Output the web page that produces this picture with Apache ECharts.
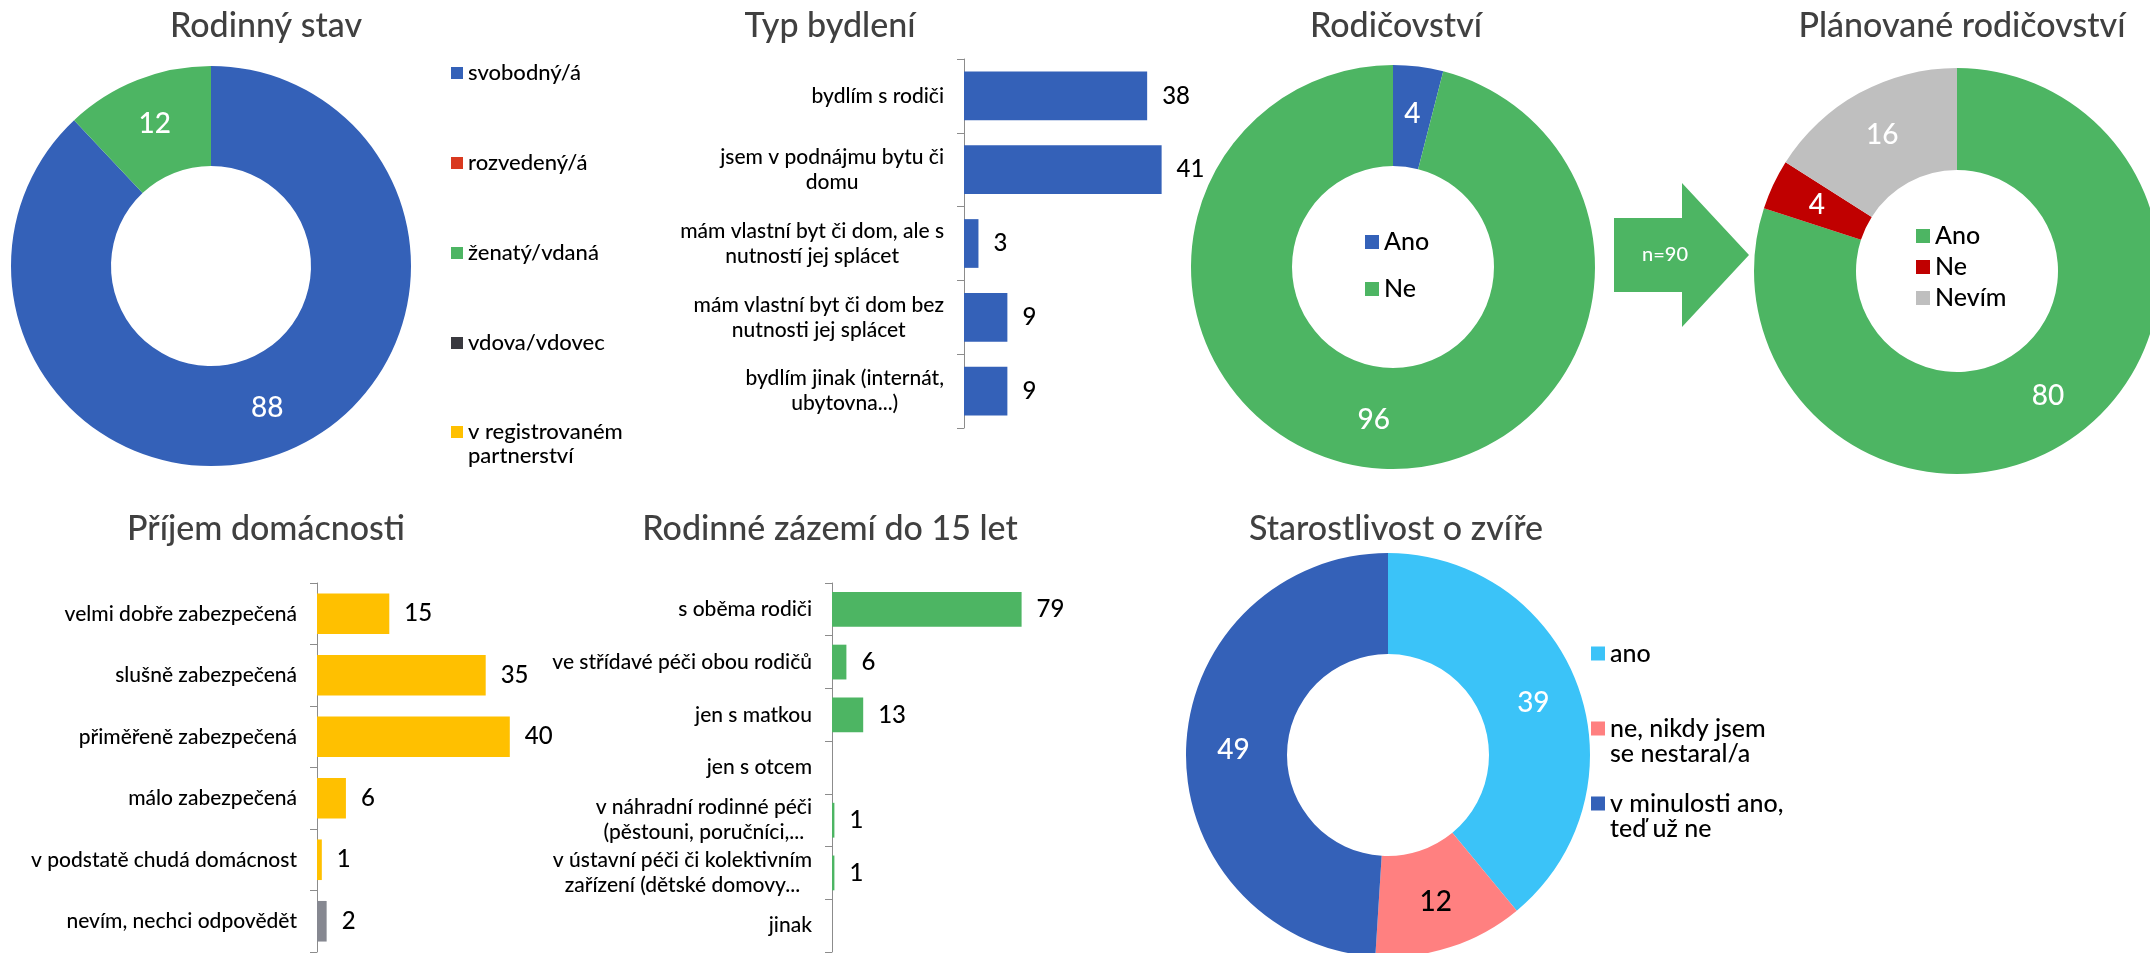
<!DOCTYPE html>
<html>
<head>
<meta charset="utf-8">
<script src="https://cdn.jsdelivr.net/npm/echarts@6/dist/echarts.min.js"></script>
<style>
html,body{margin:0;padding:0;background:#fff;}
#c{width:2150px;height:953px;}
</style>
</head>
<body>
<div id="c"></div>
<script>
// ---------- DATA ----------
const stavNames = ['svobodný/á', 'rozvedený/á', 'ženatý/vdaná', 'vdova/vdovec', 'v registrovaném\npartnerství'];
const stavVals = [88, 0, 12, 0, 0];

const bydleniCats = ['bydlím s rodiči', 'jsem v podnájmu bytu či\ndomu', 'mám vlastní byt či dom, ale s\nnutností jej splácet', 'mám vlastní byt či dom bez\nnutnosti jej splácet', 'bydlím jinak (internát,\nubytovna...)'];
const bydleniVals = [38, 41, 3, 9, 9];

const rodNames = ['Ano', 'Ne'];
const rodVals = [4, 96];

const planNames = ['Ano', 'Ne', 'Nevím'];
const planVals = [80, 4, 16];

const prijemCats = ['velmi dobře zabezpečená', 'slušně zabezpečená', 'přiměřeně zabezpečená', 'málo zabezpečená', 'v podstatě chudá domácnost', 'nevím, nechci odpovědět'];
const prijemVals = [15, 35, 40, 6, 1, 2];

const zazemiCats = ['s oběma rodiči', 've střídavé péči obou rodičů', 'jen s matkou', 'jen s otcem', 'v náhradní rodinné péči\n(pěstouni, poručníci,...', 'v ústavní péči či kolektivním\nzařízení (dětské domovy...', 'jinak'];
const zazemiVals = [79, 6, 13, 0, 1, 1, 0];

const zvireNames = ['ano', 'ne, nikdy jsem\nse nestaral/a', 'v minulosti ano,\nteď už ne'];
const zvireVals = [39, 12, 49];

const nLabel = 'n=90';

// ---------- STYLES ----------
const FONT = 'Lato';
const FW = 500;
const BLUE = '#3461B8', RED = '#D9391F', GREEN = '#4DB563', DARK = '#3A3A40', YELLOW = '#FFC000';
const DARKRED = '#C00000', LGRAY = '#BFBFBF', LBLUE = '#3BC3F8', SALMON = '#FF8080', BARGRAY = '#868891';
const stavColors = [BLUE, RED, GREEN, DARK, YELLOW];
const rodColors = [BLUE, GREEN];
const planColors = [GREEN, DARKRED, LGRAY];
const zvireColors = [LBLUE, SALMON, BLUE];
const AXIS = '#8C8C8C';

const chart = echarts.init(document.getElementById('c'), null, {renderer: 'canvas'});

function titleItem(text, x, y) {
  return {text, left: x, top: y, textAlign: 'center', padding: 0,
    textStyle: {fontSize: 34, lineHeight: 40, fontWeight: FW, color: '#404040', fontFamily: FONT}};
}

function catAxis(gridIndex, cats) {
  return {
    type: 'category', gridIndex, data: cats, inverse: true,
    axisLine: {show: true, lineStyle: {color: AXIS, width: 1}},
    axisTick: {show: true, length: 7, lineStyle: {color: AXIS}},
    axisLabel: {
      margin: 20, color: '#000', fontSize: 21, fontFamily: FONT, fontWeight: FW, lineHeight: 25,
      formatter: v => v.split('\n').map(l => '{c|' + l + '}').join('\n'),
      rich: {c: {align: 'center', fontSize: 21, fontFamily: FONT, fontWeight: FW, lineHeight: 25, color: '#000'}}
    }
  };
}

function valAxis(gridIndex, max) {
  return {type: 'value', gridIndex, min: 0, max, show: false};
}

function barSeries(idx, vals, colorFn) {
  return {
    type: 'bar', xAxisIndex: idx, yAxisIndex: idx, data: vals, barWidth: '66%',
    itemStyle: {color: colorFn},
    label: {show: true, position: 'right', distance: 15, fontSize: 24, fontFamily: FONT, fontWeight: FW, color: '#000',
      formatter: p => (p.value ? String(p.value) : '')},
    animation: false
  };
}

function pieSeries(names, vals, colors, center, radius, labelColors) {
  return {
    type: 'pie', center, radius, startAngle: 90, clockwise: true, animation: false,
    avoidLabelOverlap: false,
    data: names.map((n, i) => ({name: n, value: vals[i],
      itemStyle: {color: colors[i]},
      label: {color: (labelColors && labelColors[i]) || '#fff'}})),
    label: {show: true, position: 'inside', fontSize: 28, fontFamily: FONT, fontWeight: FW,
      formatter: p => (p.value ? String(p.value) : '')},
    labelLine: {show: false},
    emphasis: {scale: false}
  };
}

// icon: square of size s at the top of a box of height h (so it lines up with the first text line)
function topSquare(s, h) {
  return 'path://M0,0h' + s + 'v' + s + 'h-' + s + 'zM0,' + h + 'h0.01v0.01h-0.01z';
}

function legendItem(names, colors, left, top, gap, fontSize, lineHeight, itemSize, iconH) {
  return {
    orient: 'vertical', left, top, padding: 0, itemGap: gap,
    icon: iconH ? topSquare(itemSize, iconH) : 'rect',
    itemWidth: itemSize, itemHeight: iconH ? iconH : itemSize, selectedMode: false,
    data: names.map((n, i) => ({name: n, itemStyle: {color: colors[i]}})),
    textStyle: {fontSize, lineHeight, fontFamily: FONT, fontWeight: FW, color: '#000'}
  };
}

const option = {
  backgroundColor: '#fff',
  animation: false,
  title: [
    titleItem('Rodinný stav', 266, 6),
    titleItem('Typ bydlení', 830, 6),
    titleItem('Rodičovství', 1396, 6),
    titleItem('Plánované rodičovství', 1962, 6),
    titleItem('Příjem domácnosti', 266, 509),
    titleItem('Rodinné zázemí do 15 let', 830, 509),
    titleItem('Starostlivost o zvíře', 1396, 509)
  ],
  legend: [
    legendItem(stavNames.slice(0, 4), stavColors.slice(0, 4), 451, 61, 66, 22, 24, 12),
    legendItem(stavNames.slice(4), stavColors.slice(4), 451, 420, 10, 22, 24, 12, 36),
    legendItem(rodNames, rodColors, 1365, 227, 17, 25, 30, 14),
    legendItem(planNames, planColors, 1916, 221, 1, 25, 30, 14),
    legendItem(zvireNames.slice(0, 1), zvireColors.slice(0, 1), 1591, 641, 25, 25, 25, 14),
    legendItem(zvireNames.slice(1), zvireColors.slice(1), 1591, 716, 25, 25, 25, 14, 39)
  ],
  grid: [
    {left: 964, top: 59, width: 241, height: 369},
    {left: 317, top: 583, width: 241, height: 369},
    {left: 832, top: 583, width: 240, height: 369}
  ],
  xAxis: [valAxis(0, 50), valAxis(1, 50), valAxis(2, 100)],
  yAxis: [catAxis(0, bydleniCats), catAxis(1, prijemCats), catAxis(2, zazemiCats)],
  series: [
    barSeries(0, bydleniVals, () => BLUE),
    barSeries(1, prijemVals, p => (p.dataIndex === prijemVals.length - 1 ? BARGRAY : YELLOW)),
    barSeries(2, zazemiVals, () => GREEN),
    pieSeries(stavNames, stavVals, stavColors, [211, 266], [100, 200]),
    pieSeries(rodNames, rodVals, rodColors, [1393, 267], [101, 202]),
    pieSeries(planNames, planVals, planColors, [1957, 271], [101, 203]),
    pieSeries(zvireNames, zvireVals, zvireColors, [1388, 755], [101, 202], ['#fff', '#000', '#fff'])
  ],
  graphic: [
    {type: 'polygon', silent: true,
      shape: {points: [[1614, 218], [1682, 218], [1682, 183], [1749, 255], [1682, 327], [1682, 292], [1614, 292]]},
      style: {fill: GREEN}},
    {type: 'text', silent: true, x: 1665, y: 255,
      style: {text: nLabel, fill: '#fff', fontSize: 20, fontFamily: FONT, fontWeight: FW, align: 'center', verticalAlign: 'middle'}}
  ]
};

chart.setOption(option);
</script>
</body>
</html>
